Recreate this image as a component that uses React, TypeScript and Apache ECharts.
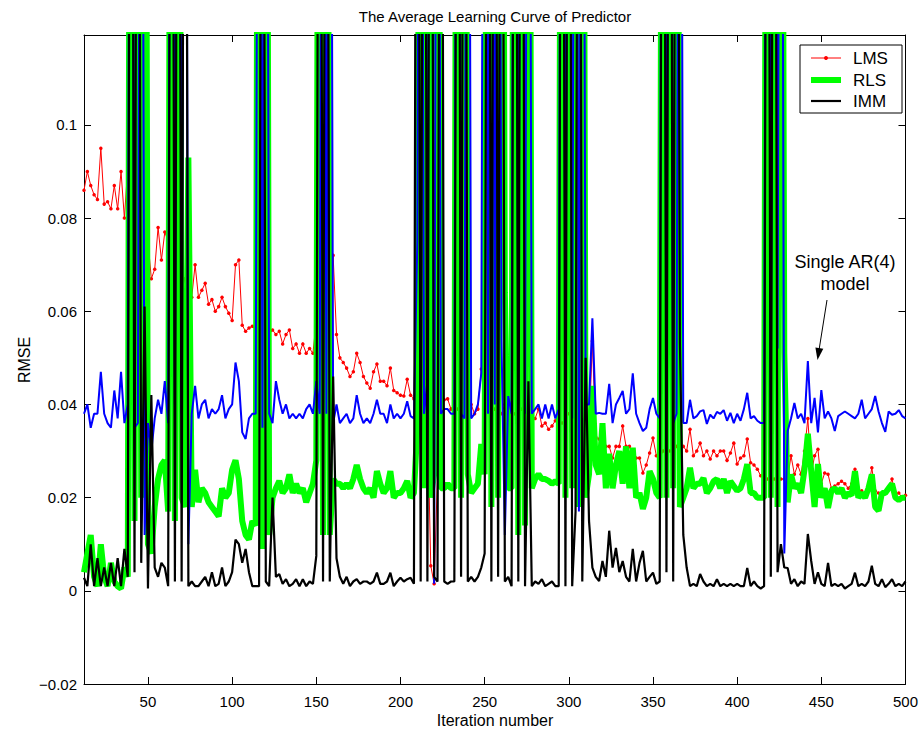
import React, { useEffect, useRef } from 'react';
import * as echarts from 'echarts';

// Iteration numbers (every second iteration, 12..500)
const iterations: number[] = Array.from({ length: 245 }, (_, i) => 12 + 2 * i);

// RMSE values in units of 1e-3 (300 = far above the visible range)
const lmsMilli: number[] = [
  86, 90, 87, 85,
  84, 95, 83, 83.5, 82,
  87, 82, 90, 80, 91,
  85, 82, 80, 78, 76,
  75, 67, 69, 78, 71,
  77, 75, 68, 70, 72,
  64, 67, 65, 63, 70,
  63, 64.5, 66, 61.5, 62.5,
  60, 61, 63, 61, 59.6,
  58, 70, 71, 57, 55.7,
  56.4, 56.8, 56, 55, 55,
  55, 55, 56, 55, 55.7,
  53, 55, 56, 52, 53,
  51, 53, 51, 52, 51,
  58, 50, 51, 50, 50,
  72, 55, 50, 49, 47.8,
  46, 47, 51, 49, 46,
  44.6, 43.5, 47, 48.7, 45,
  45, 44, 47.8, 43, 42.5,
  42, 41.8, 45.4, 42, 41.2,
  75, 40, 42, 38, 5.4,
  1.5, 25, 40, 41, 41.2,
  39, 40, 39, 41, 40,
  39, 40, 38, 39, 47.6,
  40, 39, 40, 39, 38,
  38, 40, 37.5, 37, 38,
  38, 39, 38, 39, 37,
  37, 39, 35.4, 36, 34.7,
  35.4, 36.5, 36, 36, 37,
  38, 38, 37, 36, 36,
  35, 34, 53.6, 33, 32.6,
  29.4, 31, 31, 28.5, 31,
  31, 35.4, 31, 31, 29,
  28.5, 28.5, 25.3, 27, 29.6,
  32.8, 29, 28.5, 30, 31,
  30, 30, 31, 30, 31,
  30, 34.7, 29, 30, 31.7,
  29, 30, 28.3, 30, 29,
  30, 30, 28, 29.6, 31.7,
  27.2, 28.5, 29, 32.6, 27.5,
  27, 26.1, 24.7, 25, 24,
  24, 24, 24, 24, 24,
  24, 29, 25, 27, 25,
  30, 37, 25, 29, 30.4,
  23, 25.3, 25, 22, 22.5,
  23, 23.5, 23, 22, 23,
  26.1, 21, 21.5, 20.5, 22,
  26.4, 21.5, 21, 20.8, 21,
  22, 24, 20.5, 21, 20,
  20.5,
];

const rlsMilli: number[] = [
  4, 8, 12, 3,
  1, 10, 3, 1, 6,
  2, 1, 0.5, 5, 3,
  300, 15, 300, 20, 300,
  10, 8, 18, 24, 27,
  28, 17, 300, 15, 300,
  20, 18, 93, 18, 26,
  19, 22, 21, 19, 18,
  17, 16, 22, 20, 21,
  26, 28, 24, 15, 12,
  11, 15, 14, 300, 9,
  300, 12, 20, 22, 23.6,
  21, 22, 25, 21, 23,
  21, 22, 19, 21, 23,
  28, 300, 12, 300, 12,
  24, 23, 23, 22, 23,
  22, 24, 27, 24, 22,
  21, 22, 20, 25.7, 23,
  21, 22, 25.7, 20, 21,
  21, 22, 23.6, 20, 21,
  35, 300, 22, 300, 20,
  25, 300, 22, 22, 23,
  22, 22, 300, 20, 300,
  25, 21, 22, 23, 31.5,
  25, 300, 18, 300, 20,
  300, 64, 22, 22, 300,
  12, 300, 14, 300, 22,
  24, 25, 24, 24, 23.6,
  23, 23.5, 23, 300, 20,
  300, 22, 300, 18, 300,
  20, 25, 44, 27, 25,
  36, 22, 29.4, 22, 27,
  30, 23, 31, 22, 30.7,
  20, 21, 17.6, 20, 25.7,
  24, 21, 20, 300, 20,
  300, 22, 300, 18, 20,
  22, 26.4, 22, 23, 23,
  24.2, 21, 22, 23.5, 24,
  22, 24, 21, 23.5, 22.5,
  21.5, 22, 24, 27.2, 21,
  21, 20, 20, 20, 300,
  20, 300, 18, 300, 51,
  19, 25, 22, 23, 21,
  26, 33.7, 25.7, 18, 27.2,
  20, 22, 17.8, 21.5, 22,
  21, 22, 20, 21, 20.5,
  25.7, 20, 21, 20, 22,
  25, 18, 17.2, 21, 21,
  22, 23, 20, 19.5, 20,
  20,
];

const ar4Milli: number[] = [
  38, 40, 35, 38,
  38, 47, 38, 36, 35,
  43, 37, 47, 36, 40,
  300, 35, 36, 300, 12,
  36, 30, 37, 41, 38,
  45, 36, 300, 40, 300,
  38, 300, 10, 38, 44,
  37, 40, 41, 37, 39,
  38, 39, 42, 37, 39,
  40, 49, 45, 34, 32.6,
  37, 38, 38, 300, 35,
  300, 38, 36, 45, 41,
  38, 40, 37, 38, 37,
  38, 37, 39, 40, 38,
  45, 38, 300, 38, 300,
  36, 40, 36, 37, 38,
  36, 37, 42, 38, 36,
  37, 36, 38, 41, 38,
  38, 36, 40, 37, 38,
  37, 38, 40.7, 37.5, 37,
  75, 300, 38, 45, 300,
  1.5, 300, 38, 39, 39,
  38, 38, 300, 38, 37,
  300, 37, 38, 40, 46.7,
  300, 38, 300, 40, 300,
  54, 12, 41.8, 38, 300,
  40, 300, 38, 300, 38,
  39, 40, 37, 40, 37,
  40, 37, 39, 300, 40,
  300, 37, 300, 17, 300,
  40, 40, 58.5, 38, 38.2,
  38, 38, 44.4, 36, 40,
  41.4, 42.9, 38, 39, 46.7,
  38, 36, 34.3, 35, 39,
  41.4, 38, 37, 300, 40,
  300, 36, 38, 300, 36,
  36, 41, 37, 37.5, 38.5,
  38.8, 35.8, 37.8, 37, 38.4,
  38, 38.8, 36.5, 38.2, 36,
  38, 36.5, 39, 42.5, 37,
  37.5, 36.5, 36, 36, 300,
  36, 300, 52, 300, 8,
  34.3, 37, 40.3, 37, 38,
  36, 49.3, 36, 41.4, 34,
  43.1, 37, 38.5, 37, 34.3,
  37.5, 38, 38.5, 38, 37.5,
  37, 38, 41, 37, 38,
  39, 41.8, 38.5, 36, 34.1,
  38.5, 37.8, 38, 38.8, 37.5,
  37,
];

const immMilli: number[] = [
  2.8, 1, 10, 1,
  7, 1, 5, 1, 6,
  1, 7, 1, 9, 3,
  300, 4, 300, 6, 61,
  0.5, 42, 5, 3, 6,
  5, 1, 300, 2, 300,
  2, 300, 1, 2, 1,
  1, 2, 3, 1, 4,
  1, 1.5, 5, 1, 2,
  4, 11, 10, 6, 9,
  4, 1, 1, 1, 300,
  2, 1, 20, 3, 3.6,
  1.5, 2.5, 1, 1.5, 2.5,
  1, 2.5, 1, 2, 1.5,
  7.5, 300, 2, 300, 2,
  46, 7, 3, 1.5, 3,
  1, 2, 2.5, 1.5, 2,
  2, 1.5, 2, 3.9, 1.5,
  1.5, 2, 3.9, 1, 2,
  2.8, 2, 2.5, 2.8, 1.5,
  300, 2, 300, 2, 300,
  3, 2, 300, 2, 1.5,
  2, 2, 300, 3, 300,
  2, 3, 2, 3, 5,
  8, 300, 2, 300, 3,
  300, 2, 3, 1, 300,
  2, 300, 1, 45, 1,
  2, 1.5, 2.5, 1, 1.5,
  2, 1, 1, 300, 1,
  300, 1, 17, 300, 2,
  50, 15, 5, 3, 2.1,
  6.4, 3, 12.9, 5, 9.2,
  4, 6.4, 3, 2, 9,
  2, 6, 8.6, 2, 3,
  3.9, 1.5, 2, 300, 4,
  300, 2, 300, 53, 12,
  5, 1, 1.5, 1, 3.6,
  2, 1, 1.5, 1, 2.5,
  1, 1.5, 1, 1.5, 1,
  1.5, 1, 1, 4.9, 1,
  2, 1, 0.5, 1, 300,
  3, 300, 4, 10, 5,
  4.9, 1.5, 2.5, 1, 2,
  1.5, 12.2, 6.4, 1.5, 4,
  1.5, 1, 6, 1, 1.5,
  1, 1.5, 0.5, 1, 1.5,
  3.9, 1, 1.5, 1, 2,
  5.4, 1.5, 1, 2.5, 0.8,
  1.5, 2.5, 1, 1.5, 1,
  2,
];

const xTickValues: number[] = [50, 100, 150, 200, 250, 300, 350, 400, 450, 500];
const yTickValues: number[] = [-0.02, 0, 0.02, 0.04, 0.06, 0.08, 0.1];
const legendNames: string[] = ['LMS', 'RLS', 'IMM'];

const FONT = '"Liberation Sans", Arial, Helvetica, sans-serif';

const toPairs = (arr: number[]) => iterations.map((x, i) => [x, arr[i] / 1000]);

const fmtY = (v: number) => {
  const r = Math.round(v * 100) / 100;
  if (r === 0) return '0';
  return r < 0 ? '\u2212' + String(-r) : String(r);
};

export default function App() {
  const ref = useRef<HTMLDivElement>(null);
  useEffect(() => {
    if (!ref.current) return;
    const chart = echarts.init(ref.current, undefined, { renderer: 'svg' });
    const axisLine = { show: true, onZero: false, lineStyle: { color: '#000', width: 1 } };
    const xBase = { type: 'value', min: 12, max: 500, splitLine: { show: false } };
    const yBase = { type: 'value', min: -0.02, max: 0.1193, splitLine: { show: false } };
    const txt = (text: string, x: number, y: number, size: number, align = 'center', rotation = 0) => ({
      type: 'text',
      x,
      y,
      rotation,
      z: 100,
      style: {
        text,
        fill: '#000',
        fontSize: size,
        fontFamily: FONT,
        textAlign: align,
        align,
        textVerticalAlign: 'middle',
        verticalAlign: 'middle',
      },
    });
    const option: any = {
      animation: false,
      backgroundColor: '#ffffff',
      grid: { left: 84, right: 14, top: 35, bottom: 47, containLabel: false },
      xAxis: [
        {
          ...xBase,
          position: 'bottom',
          axisLine,
          axisTick: { show: true, inside: true, length: 7, customValues: xTickValues, lineStyle: { color: '#000' } },
          axisLabel: { show: true, customValues: xTickValues, color: '#000', fontSize: 15, fontFamily: FONT, margin: 10 },
        },
        {
          ...xBase,
          position: 'top',
          axisLine,
          axisTick: { show: true, inside: true, length: 7, customValues: xTickValues, lineStyle: { color: '#000' } },
          axisLabel: { show: false },
        },
      ],
      yAxis: [
        {
          ...yBase,
          position: 'left',
          axisLine,
          axisTick: { show: true, inside: true, length: 7, customValues: yTickValues, lineStyle: { color: '#000' } },
          axisLabel: { show: true, customValues: yTickValues, formatter: fmtY, color: '#000', fontSize: 15, fontFamily: FONT, margin: 7 },
        },
        {
          ...yBase,
          position: 'right',
          axisLine,
          axisTick: { show: true, inside: true, length: 7, customValues: yTickValues, lineStyle: { color: '#000' } },
          axisLabel: { show: false },
        },
      ],
      series: [
        {
          name: legendNames[0],
          type: 'line',
          data: toPairs(lmsMilli),
          showSymbol: true,
          showAllSymbol: true,
          symbol: 'circle',
          symbolSize: 3.5,
          itemStyle: { color: '#ff0000' },
          lineStyle: { color: '#ff0000', width: 1 },
          clip: true,
          z: 2,
        },
        {
          name: legendNames[1],
          type: 'line',
          data: toPairs(rlsMilli),
          showSymbol: false,
          lineStyle: { color: '#00ff00', width: 6 },
          itemStyle: { color: '#00ff00' },
          clip: true,
          z: 3,
        },
        {
          name: 'Single AR(4) model',
          type: 'line',
          data: toPairs(ar4Milli),
          showSymbol: false,
          lineStyle: { color: '#0000ff', width: 2 },
          itemStyle: { color: '#0000ff' },
          clip: true,
          z: 4,
        },
        {
          name: legendNames[2],
          type: 'line',
          data: toPairs(immMilli),
          showSymbol: false,
          lineStyle: { color: '#000000', width: 2.2 },
          itemStyle: { color: '#000000' },
          clip: true,
          z: 5,
        },
      ],
      graphic: [
        txt('The Average Learning Curve of Predictor', 495, 16, 15),
        txt('Iteration number', 495, 720, 16),
        txt('RMSE', 24, 360, 16, 'center', Math.PI / 2),
        {
          type: 'rect',
          z: 100,
          shape: { x: 800, y: 45, width: 102, height: 68 },
          style: { fill: '#ffffff', stroke: '#000000', lineWidth: 1 },
        },
        { type: 'line', z: 101, shape: { x1: 811, y1: 58, x2: 841, y2: 58 }, style: { stroke: '#ff0000', lineWidth: 1 } },
        { type: 'circle', z: 102, shape: { cx: 826, cy: 58, r: 2 }, style: { fill: '#ff0000' } },
        { type: 'line', z: 101, shape: { x1: 811, y1: 80, x2: 841, y2: 80 }, style: { stroke: '#00ff00', lineWidth: 6 } },
        { type: 'line', z: 101, shape: { x1: 811, y1: 101, x2: 841, y2: 101 }, style: { stroke: '#000000', lineWidth: 2.2 } },
        txt(legendNames[0], 853, 58, 17, 'left'),
        txt(legendNames[1], 853, 80, 17, 'left'),
        txt(legendNames[2], 853, 101, 17, 'left'),
        txt('Single AR(4)', 845, 262, 18),
        txt('model', 845, 284, 18),
        { type: 'line', z: 100, shape: { x1: 827, y1: 300, x2: 819.2, y2: 349 }, style: { stroke: '#000000', lineWidth: 1 } },
        {
          type: 'polygon',
          z: 100,
          shape: { points: [[817.5, 360], [815.4, 347.5], [823.3, 348.8]] },
          style: { fill: '#000000' },
        },
      ],
    };
    chart.setOption(option);
    return () => chart.dispose();
  }, []);
  return (
    <div
      ref={ref}
      style={{ position: 'fixed', left: 0, top: 0, width: 921, height: 731, background: '#fff' }}
    />
  );
}
